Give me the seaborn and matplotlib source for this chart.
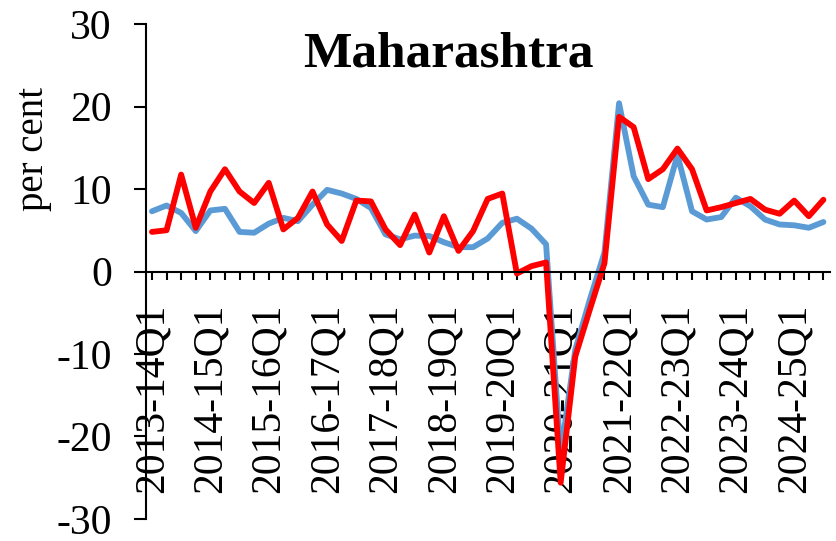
import matplotlib
matplotlib.use("Agg")
import matplotlib.pyplot as plt
import numpy as np
import pandas as pd
import seaborn as sns

# quarterly categories, 2013-14Q1 .. 2024-25Q3
quarters = [f"{y}-{(y + 1) % 100:02d}Q{q}" for y in range(2013, 2025) for q in range(1, 5)][:47]

series_blue = [7.3, 8.0, 7.1, 4.9, 7.4, 7.6, 4.8, 4.7, 5.8, 6.5,
               6.1, 8.1, 9.9, 9.45, 8.8, 7.7, 4.5, 3.9, 4.35, 4.3,
               3.55, 2.95, 2.95, 4.0, 5.9, 6.4, 5.2, 3.3, -22.2, -9.5,
               -3.4, 2.3, 20.4, 11.55, 8.1, 7.8, 14.1, 7.3, 6.3, 6.6,
               8.95, 7.9, 6.3, 5.7, 5.6, 5.3, 6.0]
series_red = [4.8, 5.0, 11.75, 5.3, 9.7, 12.4, 9.7, 8.3, 10.75, 5.1,
              6.5, 9.7, 5.7, 3.7, 8.6, 8.5, 5.1, 3.2, 6.9, 2.3,
              6.7, 2.5, 4.9, 8.8, 9.45, -0.25, 0.65, 1.1, -25.6, -10.3,
              -4.6, 1.0, 18.75, 17.5, 11.2, 12.4, 14.9, 12.4, 7.4, 7.8,
              8.3, 8.8, 7.5, 7.0, 8.6, 6.7, 8.7]

yticks = [-30, -20, -10, 0, 10, 20, 30]
title = "Maharashtra"

df = pd.DataFrame({"idx": np.arange(len(quarters)), "blue": series_blue, "red": series_red})

sns.set_style("white")
plt.rcParams['font.family'] = ['Liberation Serif', 'DejaVu Serif']
plt.rcParams['text.color'] = 'black'
plt.rcParams['xtick.color'] = 'black'
plt.rcParams['ytick.color'] = 'black'
plt.rcParams['axes.labelcolor'] = 'black'

fig = plt.figure(figsize=(8.36, 5.41), dpi=100)
ax = fig.add_axes([0.1746, 0.0407, 0.8182, 0.9149])

sns.lineplot(data=df, x="idx", y="blue", color="#5B9BD5", linewidth=4.2, ax=ax)
sns.lineplot(data=df, x="idx", y="red", color="#FF0000", linewidth=4.2, ax=ax)

ax.set_xlim(-0.41, len(quarters) - 1 + 0.45)
ax.set_ylim(-30, 30)
ax.set_yticks(yticks)
ax.set_yticklabels([str(v) for v in yticks])

ax.set_xticks(df["idx"])
ax.set_xticklabels([q if i % 4 == 0 else "" for i, q in enumerate(quarters)])

for s in ["top", "right"]:
    ax.spines[s].set_visible(False)
ax.spines["bottom"].set_position(("data", 0))
for s in ["left", "bottom"]:
    ax.spines[s].set_color("black")
    ax.spines[s].set_linewidth(1.5)

ax.tick_params(axis="x", direction="out", length=5.8, width=1.5, colors="black",
               labelsize=30, pad=17, bottom=True, labelrotation=90)
ax.tick_params(axis="y", direction="out", length=8.6, width=1.5, colors="black",
               labelsize=30, pad=16, left=True)

ax.set_xlabel("")
ax.set_ylabel("per cent", fontsize=28, color="black")
ax.yaxis.label.set(va="center", ha="center")
ax.yaxis.set_label_coords(-0.165, 0.748)

ax.text(0.4415, 0.915, title, transform=ax.transAxes, ha="center", va="baseline",
        fontsize=37, fontweight="bold", color="black")

fig.savefig("out.png", dpi=100)
